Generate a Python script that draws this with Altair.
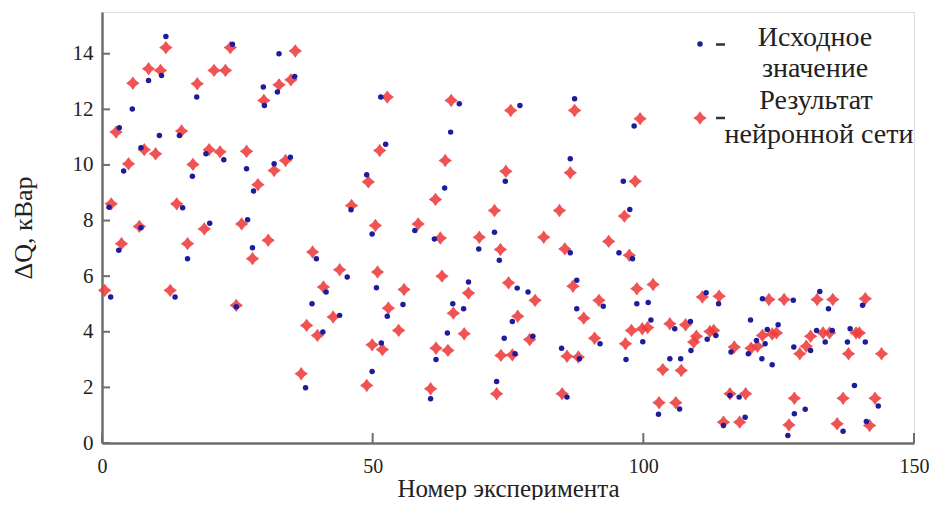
import altair as alt
import pandas as pd

# ---- data ----
red_x = [0.5, 1.7, 2.6, 3.6, 4.9, 5.7, 6.9, 7.8, 8.6, 9.9, 10.8, 11.8, 12.6, 13.8, 14.7, 15.8, 16.8, 17.6,
         18.9, 19.8, 20.7, 21.8, 22.8, 23.7, 24.8, 25.8, 26.7, 27.8, 28.8, 29.9, 30.7, 31.8, 32.7, 33.9,
         34.9, 35.7, 36.8, 37.8, 38.9, 39.8, 40.9, 42.7, 43.9, 46.1, 48.9, 49.2, 49.9, 50.5, 50.9, 51.3,
         51.8, 52.7, 52.9, 54.8, 55.8, 58.4, 60.7, 61.6, 61.7, 62.5, 62.8, 63.4, 63.9, 64.5, 64.9, 66.9,
         67.7, 69.7, 72.5, 72.9, 73.6, 73.7, 74.6, 75.1, 75.5, 75.8, 76.8, 79.0, 80.0, 81.6, 84.5, 85.0,
         85.5, 85.9, 86.5, 87.0, 87.3, 88.0, 89.0, 91.0, 91.8, 93.6, 96.5, 96.7, 97.4, 97.8, 98.5, 98.8,
         99.4, 99.8, 100.8, 101.8, 102.9, 103.6, 104.9, 106.0, 107.0, 107.8, 109.3, 109.8, 110.9, 112.3,
         113.0, 114.0, 114.8, 116.0, 116.8, 117.8, 118.9, 119.9, 121.1, 122.0, 123.2, 123.8, 124.6, 126.0,
         126.9, 127.9, 128.9, 130.1, 130.9, 132.1, 133.2, 134.4, 135.0, 135.8, 136.9, 137.9, 139.3, 139.9,
         141.0, 141.8, 142.8, 144.0]
red_y = [5.49, 8.60, 11.18, 7.17, 10.04, 12.94, 7.79, 10.55, 13.46, 10.40, 13.40, 14.22, 5.49, 8.60, 11.22,
         7.17, 10.02, 12.92, 7.70, 10.55, 13.40, 10.47, 13.40, 14.22, 4.95, 7.88, 10.49, 6.63, 9.29, 12.32,
         7.29, 9.80, 12.88, 10.16, 13.06, 14.10, 2.49, 4.23, 6.87, 3.87, 5.61, 4.53, 6.23, 8.54, 2.07, 9.39,
         3.53, 7.82, 6.15, 10.52, 3.36, 12.44, 4.85, 4.05, 5.52, 7.88, 1.95, 8.76, 3.41, 7.37, 6.00, 10.16,
         3.33, 12.32, 4.67, 3.93, 5.39, 7.40, 8.36, 1.77, 6.96, 3.15, 9.77, 5.76, 11.96, 3.17, 4.56, 3.72,
         5.13, 7.40, 8.36, 1.77, 6.98, 3.12, 9.72, 5.64, 11.96, 3.09, 4.49, 3.77, 5.13, 7.25, 8.16, 3.57,
         6.75, 4.05, 9.41, 5.55, 11.66, 4.11, 4.15, 5.70, 1.45, 2.64, 4.29, 1.45, 2.61, 4.25, 3.63, 3.84,
         5.25, 4.01, 4.05, 5.28, 0.75, 1.77, 3.45, 0.75, 1.77, 3.41, 3.48, 3.87, 5.16, 3.92, 3.96, 5.16,
         0.65, 1.61, 3.21, 3.48, 3.84, 5.16, 3.96, 3.96, 5.16, 0.69, 1.61, 3.21, 3.96, 3.96, 5.19, 0.63,
         1.61, 3.21]

blue_x = [1.6, 1.3, 3.2, 3.1, 4.0, 5.6, 7.2, 7.2, 8.6, 10.6, 11.0, 11.8, 13.5, 14.9, 14.3, 15.8, 16.7, 17.5,
          19.9, 19.2, 22.5, 24.1, 24.8, 26.9, 26.7, 27.8, 28.0, 29.8, 30.0, 31.8, 32.4, 32.7, 34.8, 35.6,
          37.6, 38.8, 39.6, 40.8, 41.4, 43.9, 45.3, 46.0, 48.9, 49.9, 49.9, 50.7, 51.5, 51.6, 52.4, 52.7,
          55.6, 57.8, 60.7, 61.4, 61.7, 63.3, 63.8, 64.4, 64.8, 66.0, 66.8, 67.7, 69.6, 72.5, 72.9, 73.4,
          74.3, 74.5, 75.8, 76.3, 76.7, 77.2, 78.7, 79.6, 84.9, 85.9, 86.5, 86.5, 87.3, 87.7, 87.7, 88.2,
          92.0, 92.6, 95.5, 96.3, 96.8, 97.5, 98.0, 98.3, 98.8, 99.9, 100.9, 101.4, 102.8, 104.9, 105.8,
          106.7, 106.9, 108.7, 108.8, 111.6, 111.8, 113.4, 113.9, 114.8, 116.0, 116.2, 117.7, 118.8, 119.4,
          119.8, 120.9, 121.9, 122.0, 122.5, 122.9, 123.8, 124.9, 126.7, 127.7, 127.8, 127.9, 129.9, 130.9,
          132.0, 132.6, 133.6, 134.2, 134.9, 136.9, 137.7, 138.2, 139.0, 140.5, 141.0, 141.2, 143.4]
blue_y = [5.25, 8.48, 11.34, 6.93, 9.78, 12.01, 7.74, 10.62, 13.04, 11.06, 13.22, 14.62, 5.25, 8.46, 11.06,
          6.63, 9.59, 12.44, 7.90, 10.40, 10.19, 14.34, 4.90, 8.03, 9.86, 7.02, 9.06, 12.80, 12.14, 10.04,
          12.62, 14.00, 10.28, 13.18, 1.99, 5.01, 6.63, 3.99, 5.43, 4.59, 5.97, 8.39, 9.65, 7.52, 2.57, 5.58,
          12.44, 3.60, 10.74, 4.56, 4.98, 7.64, 1.59, 7.34, 3.00, 9.17, 3.96, 11.18, 5.01, 12.20, 4.83, 5.79,
          6.98, 7.58, 2.21, 6.57, 3.77, 9.41, 4.37, 3.21, 5.57, 12.14, 5.43, 3.84, 3.41, 1.65, 6.84, 10.22,
          12.38, 5.85, 4.83, 3.03, 3.57, 4.92, 6.84, 9.41, 3.00, 8.40, 6.63, 11.40, 5.01, 3.64, 5.05, 4.42,
          1.03, 3.03, 4.11, 1.22, 3.03, 4.37, 3.33, 5.40, 3.73, 3.87, 5.01, 0.63, 1.71, 3.27, 1.65, 0.93,
          3.21, 4.42, 3.69, 3.03, 5.19, 3.57, 4.08, 2.81, 4.25, 0.27, 5.13, 3.45, 1.05, 1.21, 3.33, 4.05,
          5.45, 3.63, 4.83, 4.05, 0.42, 3.63, 4.11, 2.07, 4.95, 3.63, 0.77, 1.33]

x_ticks = [0, 50, 100, 150]
y_ticks = [0, 2, 4, 6, 8, 10, 12, 14]
legend_blue = ["Исходное", "значение"]
legend_red = ["Результат", "нейронной сети"]
x_title = "Номер эксперимента"
y_title = "ΔQ, кВар"

W, H = 812, 431
FONT = "Liberation Serif"
AX = "#6e6e6e"
RED = "#ee3b3b"
BLUE = "#1c1c9c"
STAR = "M0,-1L0.42,-0.42L1,0L0.42,0.42L0,1L-0.42,0.42L-1,0L-0.42,-0.42Z"

xs = alt.Scale(domain=[0, 150], nice=False, zero=False)
ys = alt.Scale(domain=[0, 15.5], nice=False, zero=False)

xaxis = alt.Axis(values=x_ticks, ticks=False, tickSize=0, grid=False, domainColor=AX, domainWidth=2.5,
                 labelFont=FONT, labelFontSize=20, labelColor="#222", labelPadding=13, labelFlush=False,
                 title=x_title, titleFont=FONT, titleFontSize=25, titleFontWeight="normal",
                 titleColor="#222", titlePadding=0)
yaxis = alt.Axis(values=y_ticks, ticks=False, tickSize=0, grid=False, domainColor=AX, domainWidth=2.5,
                 labelFont=FONT, labelFontSize=21, labelColor="#222", labelPadding=9, labelFlush=False,
                 title=y_title, titleFont=FONT, titleFontSize=26, titleFontWeight="normal",
                 titleColor="#222", titlePadding=36)

red_df = pd.DataFrame({"x": red_x, "y": red_y})
blue_df = pd.DataFrame({"x": blue_x, "y": blue_y})

red = alt.Chart(red_df).mark_point(shape=STAR, filled=True, size=180, color=RED, opacity=0.88).encode(
    x=alt.X("x:Q", scale=xs, axis=xaxis), y=alt.Y("y:Q", scale=ys, axis=yaxis))
blue = alt.Chart(blue_df).mark_point(shape="circle", filled=True, size=30, color=BLUE, opacity=1).encode(
    x=alt.X("x:Q", scale=xs, axis=xaxis), y=alt.Y("y:Q", scale=ys, axis=yaxis))

xt = alt.Chart(pd.DataFrame({"x": x_ticks})).mark_rule(color=AX, strokeWidth=2).encode(
    x=alt.X("x:Q", scale=xs, axis=xaxis), y=alt.value(H), y2=alt.value(H - 10))
yt = alt.Chart(pd.DataFrame({"y": y_ticks})).mark_rule(color=AX, strokeWidth=2).encode(
    y=alt.Y("y:Q", scale=ys, axis=yaxis), x=alt.value(0), x2=alt.value(8))

one = pd.DataFrame({"a": [0]})
leg_blue_pt = alt.Chart(one).mark_point(shape="circle", filled=True, size=30, color=BLUE, opacity=1).encode(
    x=alt.value(598), y=alt.value(32))
leg_red_pt = alt.Chart(one).mark_point(shape=STAR, filled=True, size=180, color=RED, opacity=0.88).encode(
    x=alt.value(598), y=alt.value(106))
dash1 = alt.Chart(one).mark_rule(color="#333", strokeWidth=2.5).encode(
    x=alt.value(614), x2=alt.value(623), y=alt.value(32.5))
dash2 = alt.Chart(one).mark_rule(color="#333", strokeWidth=2.5).encode(
    x=alt.value(614), x2=alt.value(623), y=alt.value(106))

def txt(s, x, y):
    return alt.Chart(one).mark_text(font=FONT, fontSize=28, color="#222", align="center",
                                    baseline="alphabetic").encode(
        x=alt.value(x), y=alt.value(y), text=alt.value(s))

legend_layers = [txt(legend_blue[0], 713, 34), txt(legend_blue[1], 713, 65),
                 txt(legend_red[0], 714, 97), txt(legend_red[1], 717, 131)]

chart = alt.layer(red, blue, xt, yt, leg_blue_pt, leg_red_pt, dash1, dash2, *legend_layers).properties(
    width=W, height=H,
    autosize=alt.AutoSizeParams(type="none"),
    padding={"left": 94, "top": 4, "right": 15, "bottom": 57},
).configure_view(stroke=None).configure(background="white")

chart.save("out.html", embed_options={"renderer": "svg", "actions": False})
